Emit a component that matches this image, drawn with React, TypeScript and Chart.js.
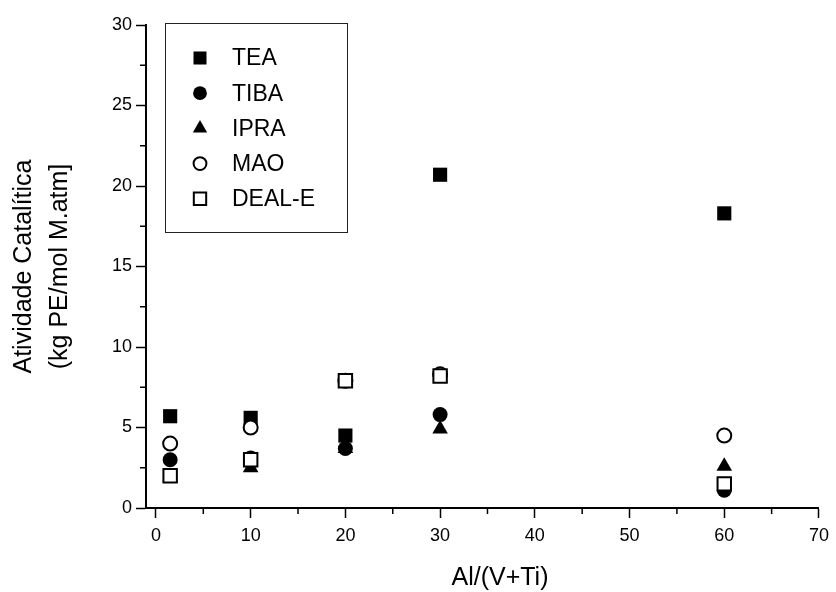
import React, { useEffect, useRef } from 'react';
import { Chart, registerables } from 'chart.js';

Chart.register(...registerables);

// ---- data ----
const xValues = [1.5, 10, 20, 30, 60];
const teaValues = [5.7, 5.6, 4.5, 20.7, 18.3];
const tibaValues = [3.0, 3.1, 3.7, 5.8, 1.1];
const ipraValues = [1.9, 2.5, 3.7, 4.9, 2.6];
const maoValues = [4.0, 5.0, 7.9, 8.3, 4.5];
const dealValues = [2.0, 3.0, 7.9, 8.2, 1.5];
const seriesNames = ['TEA', 'TIBA', 'IPRA', 'MAO', 'DEAL-E'];

const xTickValues = [0, 5, 10, 15, 20, 25, 30, 35, 40, 45, 50, 55, 60, 65, 70];
const xMajorTicks = [0, 10, 20, 30, 40, 50, 60, 70];
const yTickValues = [0, 2.5, 5, 7.5, 10, 12.5, 15, 17.5, 20, 22.5, 25, 27.5, 30];
const yMajorTicks = [0, 5, 10, 15, 20, 25, 30];

const xTitle = 'Al/(V+Ti)';
const yTitle = ['Atividade Catalítica', '(kg PE/mol M.atm]'];

const FONT = '"Liberation Sans", Arial, sans-serif';

const toPoints = (ys: number[]) => ys.map((y, i) => ({ x: xValues[i], y }));

function drawMarker(ctx: CanvasRenderingContext2D, style: string, x: number, y: number, r: number, fill: string, stroke: string, bw: number) {
  ctx.save();
  ctx.beginPath();
  if (style === 'rect') {
    const s = Math.SQRT1_2 * r;
    ctx.rect(x - s, y - s, 2 * s, 2 * s);
  } else if (style === 'circle') {
    ctx.arc(x, y, r, 0, Math.PI * 2);
  } else if (style === 'triangle') {
    let rad = 0;
    ctx.moveTo(x + Math.sin(rad) * r, y - Math.cos(rad) * r);
    rad += (2 * Math.PI) / 3;
    ctx.lineTo(x + Math.sin(rad) * r, y - Math.cos(rad) * r);
    rad += (2 * Math.PI) / 3;
    ctx.lineTo(x + Math.sin(rad) * r, y - Math.cos(rad) * r);
    ctx.closePath();
  }
  ctx.fillStyle = fill;
  ctx.fill();
  if (bw > 0) {
    ctx.lineWidth = bw;
    ctx.strokeStyle = stroke;
    ctx.stroke();
  }
  ctx.restore();
}

const minorTicksPlugin = {
  id: 'minorTicks',
  afterDraw(chart: any) {
    const { ctx } = chart;
    const xs = chart.scales.x;
    const ys = chart.scales.y;
    ctx.save();
    ctx.strokeStyle = '#000';
    ctx.lineWidth = 1.5;
    ctx.beginPath();
    xTickValues.filter((v) => !xMajorTicks.includes(v)).forEach((v) => {
      const px = xs.getPixelForValue(v);
      ctx.moveTo(px, xs.top);
      ctx.lineTo(px, xs.top + 6);
    });
    yTickValues.filter((v) => !yMajorTicks.includes(v)).forEach((v) => {
      const py = ys.getPixelForValue(v);
      ctx.moveTo(ys.right, py);
      ctx.lineTo(ys.right - 6, py);
    });
    ctx.stroke();
    ctx.restore();
  },
};

const legendBoxPlugin = {
  id: 'legendBox',
  afterDraw(chart: any) {
    const { ctx } = chart;
    const left = 165, top = 23, width = 182, height = 209;
    ctx.save();
    ctx.fillStyle = '#fff';
    ctx.fillRect(left, top, width, height);
    ctx.strokeStyle = '#222';
    ctx.lineWidth = 1;
    ctx.strokeRect(left + 0.5, top + 0.5, width, height);
    ctx.font = `23px ${FONT}`;
    ctx.textBaseline = 'middle';
    ctx.textAlign = 'left';
    chart.data.datasets.forEach((ds: any, i: number) => {
      const cy = 58 + i * 35.2;
      drawMarker(ctx, ds.pointStyle, 200, cy, ds.pointRadius * 0.92, ds.backgroundColor, ds.borderColor, ds.borderWidth);
      ctx.fillStyle = '#000';
      ctx.fillText(ds.label, 232, cy + 1);
    });
    ctx.restore();
  },
};

const xTitlePlugin = {
  id: 'xTitle',
  afterDraw(chart: any) {
    const { ctx } = chart;
    ctx.save();
    ctx.font = `25px ${FONT}`;
    ctx.fillStyle = '#000';
    ctx.textAlign = 'center';
    ctx.textBaseline = 'middle';
    ctx.fillText(xTitle, 500, 578);
    ctx.restore();
  },
};

export default function App() {
  const canvasRef = useRef<HTMLCanvasElement | null>(null);

  useEffect(() => {
    document.body.style.margin = '0';
    const canvas = canvasRef.current;
    if (!canvas) return;
    Chart.defaults.font.family = FONT;
    Chart.defaults.color = '#000';

    const styles = [
      { pointStyle: 'rect', pointRadius: 10, backgroundColor: '#000', borderColor: '#000', borderWidth: 0, order: 5 },
      { pointStyle: 'circle', pointRadius: 7.5, backgroundColor: '#000', borderColor: '#000', borderWidth: 0, order: 4 },
      { pointStyle: 'triangle', pointRadius: 9, backgroundColor: '#000', borderColor: '#000', borderWidth: 0, order: 3 },
      { pointStyle: 'circle', pointRadius: 7, backgroundColor: '#fff', borderColor: '#000', borderWidth: 2, order: 2 },
      { pointStyle: 'rect', pointRadius: 9.5, backgroundColor: '#fff', borderColor: '#000', borderWidth: 2, order: 1 },
    ];
    const values = [teaValues, tibaValues, ipraValues, maoValues, dealValues];

    const chart = new Chart(canvas, {
      type: 'scatter',
      data: {
        datasets: values.map((v, i) => ({
          label: seriesNames[i],
          data: toPoints(v),
          showLine: false,
          pointHoverRadius: styles[i].pointRadius,
          ...styles[i],
        })) as any,
      },
      options: {
        responsive: false,
        animation: false,
        layout: { padding: { top: 25, left: 0, right: 14, bottom: 0 } },
        plugins: {
          legend: { display: false },
          tooltip: { enabled: false },
        },
        scales: {
          x: {
            type: 'linear',
            min: -1.05,
            max: 70,
            afterBuildTicks: (scale: any) => {
              scale.ticks = xTickValues.map((v) => ({ value: v }));
            },
            afterFit: (scale: any) => {
              scale.height = 84;
            },
            grid: {
              display: true,
              drawOnChartArea: false,
              drawTicks: true,
              tickLength: 10,
              tickWidth: 1.5,
              tickColor: (c: any) => (xMajorTicks.includes(c.tick?.value) ? '#000' : 'rgba(0,0,0,0)'),
            },
            border: { display: true, color: '#000', width: 2 },
            ticks: {
              autoSkip: false,
              maxRotation: 0,
              padding: 7,
              color: '#000',
              font: { size: 18, family: FONT },
              callback: (v: any) => (xMajorTicks.includes(Number(v)) ? String(v) : ''),
            },
            title: { display: false },
          },
          y: {
            type: 'linear',
            min: 0,
            max: 30,
            afterBuildTicks: (scale: any) => {
              scale.ticks = yTickValues.map((v) => ({ value: v }));
            },
            afterFit: (scale: any) => {
              scale.width = 146;
            },
            grid: {
              display: true,
              drawOnChartArea: false,
              drawTicks: true,
              tickLength: 10,
              tickWidth: 1.5,
              tickColor: (c: any) => (yMajorTicks.includes(c.tick?.value) ? '#000' : 'rgba(0,0,0,0)'),
            },
            border: { display: true, color: '#000', width: 2 },
            ticks: {
              autoSkip: false,
              padding: 4,
              color: '#000',
              font: { size: 18, family: FONT },
              callback: (v: any) => (yMajorTicks.includes(Number(v)) ? String(v) : ''),
            },
            title: {
              display: true,
              text: yTitle,
              color: '#000',
              font: { size: 25, family: FONT, lineHeight: 1.44 },
              padding: { top: 6, bottom: 0 },
            },
          },
        },
      },
      plugins: [minorTicksPlugin, legendBoxPlugin, xTitlePlugin],
    });

    return () => chart.destroy();
  }, []);

  return (
    <div style={{ width: 836, height: 592 }}>
      <canvas ref={canvasRef} width={836} height={592} style={{ display: 'block' }} />
    </div>
  );
}
